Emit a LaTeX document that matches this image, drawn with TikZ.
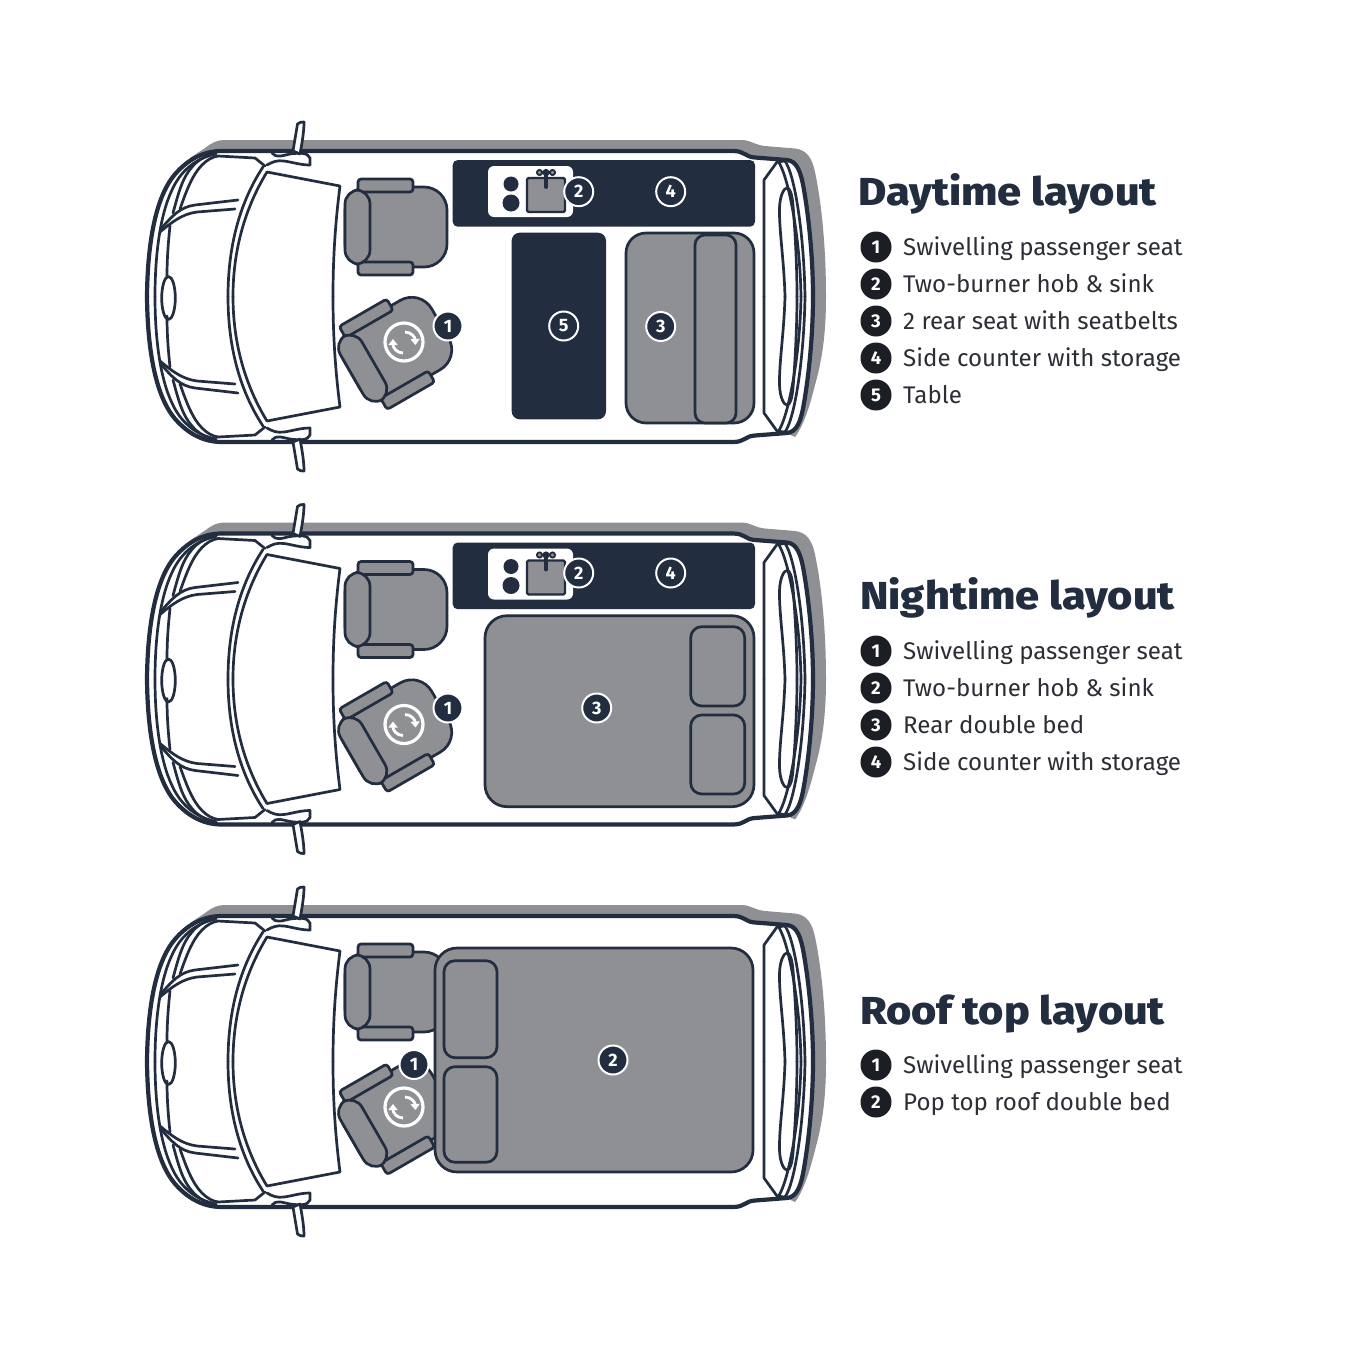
\documentclass[tikz,border=0pt]{standalone}
\usepackage{fontspec}
\setmainfont{Fira Sans}
\newfontfamily\titlef[FakeStretch=1.11]{Fira Sans ExtraBold}
\newfontfamily\badgef{Fira Sans}[UprightFont=* Bold]
\usetikzlibrary{arrows.meta}
\definecolor{navy}{HTML}{222D40}
\definecolor{seatgray}{HTML}{8F9093}
\definecolor{inkblack}{HTML}{1B1E24}
\definecolor{listtext}{HTML}{2B2E35}
\tikzset{
  thickline/.style={draw=navy,line width=4.2pt,line cap=round,line join=round},
  thinline/.style={draw=navy,line width=2.7pt,line cap=round,line join=round},
  seatline/.style={draw=navy,fill=seatgray,line width=2.7pt},
  badge/.style={circle,fill=navy,draw=white,line width=2pt,minimum size=29pt,inner sep=0pt,text=white,font=\badgef\fontsize{18}{20}\selectfont},
  legendbadge/.style={circle,fill=inkblack,minimum size=31pt,inner sep=0pt,text=white,font=\badgef\fontsize{18.5}{20}\selectfont},
  legendtext/.style={anchor=base west,inner sep=0pt,text=listtext,font=\fontsize{24.1}{28}\selectfont},
  titletext/.style={anchor=base west,inner sep=0pt,text=navy,font=\titlef\fontsize{39}{42}\selectfont}
}
\newcommand{\vanfill}{%
  \fill[white] (147,298) -- (147,296.5) .. controls (147.5,245) and (155,195) .. (177,172) .. controls (190,158) and (205,151) .. (222,151) -- (733,151) .. controls (745,151) and (745,157) .. (755,157.5) -- (787,160) .. controls (797,161) and (801,172) .. (804,190) .. controls (810,225) and (813,265) .. (813,298) -- cycle;
}
\newcommand{\vanhalf}{%
  \draw[thickline] (147,296.5) .. controls (147.5,245) and (155,195) .. (177,172) .. controls (190,158) and (205,151) .. (222,151) -- (733,151) .. controls (745,151) and (745,157) .. (755,157.5) -- (787,160) .. controls (797,161) and (801,172) .. (804,190) .. controls (810,225) and (813,265) .. (813,296.5);
  % front inner curves
  \draw[thinline] (155,296.5) .. controls (155,255) and (160,215) .. (172,190) .. controls (180,172) and (195,158) .. (216,154);
  \draw[thinline] (173,213) .. controls (178,195) and (182,178) .. (192,167) .. controls (197,161) and (203,157) .. (210,155);
  \draw[thinline] (180,209) .. controls (186,192) and (192,175) .. (202,165) .. controls (207,160) and (212,157) .. (218,156);
  % wiper strip
  \draw[thinline] (160,230) .. controls (172,216) and (180,207) .. (195,205) -- (238,200);
  \draw[thinline] (160,232) .. controls (172,222) and (182,214) .. (197,212) -- (235,209);
  \draw[thinline] (170,226) .. controls (168,245) and (167,260) .. (167,277);
  % windscreen / roof front
  \draw[thinline] (228,296.5) .. controls (228,250) and (238,205) .. (263,167);
  \draw[thinline] (233,296.5) .. controls (233,250) and (245,208) .. (267,172);
  \draw[thinline] (218,156) -- (255,158) -- (265,166);
  \draw[thinline] (267,172) -- (340,186) .. controls (335,225) and (333,260) .. (333,296.5);
  % mirror
  \draw[thinline,fill=white] (272,153) .. controls (276,158) and (281,156) .. (290,154) .. controls (298,153) and (308,152) .. (310,158) -- (310,165) .. controls (300,165) and (292,162) .. (284,161) .. controls (277,160) and (272,162) .. (267,165);
  \draw[thinline,fill=white] (293,151) -- (297.5,124) .. controls (299,122) and (302,122) .. (304,122) .. controls (304,132) and (302,143) .. (300,154) -- cycle;
  % rear door
  \draw[thinline] (764,296.5) -- (764,180) -- (777,162) -- (788,160.5);
  \draw[thinline] (778,161) .. controls (788,175) and (800,235) .. (801,296.5);
  \draw[thinline] (785,161) .. controls (795,175) and (804,235) .. (805,296.5);
  % rear window
  \draw[thinline] (785,296.5) .. controls (784,260) and (779,230) .. (779.5,208) .. controls (780,195) and (784,188) .. (787,188) .. controls (790,188) and (792,194) .. (793,205) .. controls (795,230) and (797,265) .. (797,296.5);
}
\newcommand{\van}{%
  \fill[seatgray] (190,158) -- (205,148) .. controls (213,142) and (218,140) .. (225,140) -- (743,140) .. controls (752,141) and (755,145) .. (765,146) -- (795,148.5) .. controls (807,150) and (812,158) .. (815,172) .. controls (822,205) and (826,250) .. (826,296.5) .. controls (826,335) and (822,360) .. (815,385) .. controls (810,405) and (804,425) .. (795,437) -- cycle;
  \vanfill
  \begin{scope}[shift={(0,593)},yscale=-1]\vanfill\end{scope}
  \vanhalf
  \begin{scope}[shift={(0,593)},yscale=-1]\vanhalf\end{scope}
  \draw[thinline] (168.5,298) ellipse [x radius=6.8pt,y radius=21.5pt];
}
\newcommand{\seatshape}{%
  \draw[seatline,rounded corners=23pt] (-51,-40) rectangle (51,40);
  \draw[seatline,rounded corners=3pt] (-38,-48) rectangle (17,-35);
  \draw[seatline,rounded corners=3pt] (-38,35) rectangle (17,48);
  \draw[seatline,rounded corners=14pt] (-51,-37) rectangle (-26,37);
}
\newcommand{\seats}{%
  \begin{scope}[shift={(396,227)}]\seatshape\end{scope}
  \begin{scope}[shift={(396,349)},rotate=30]\seatshape\end{scope}
  \draw[white,line width=3.2pt] (404,342) circle [radius=19pt];
  \draw[white,line width=2.8pt,-{Triangle[length=6pt,width=9pt]}] (405,332) .. controls (411,332) and (415,337) .. (415.5,345);
  \draw[white,line width=2.8pt,-{Triangle[length=6pt,width=9pt]}] (403,353) .. controls (397,353) and (393,348) .. (393,339);
}
\newcommand{\kitchen}{%
  \fill[navy,rounded corners=5pt] (452.7,160) rectangle (755,226.7);
  \fill[white,rounded corners=6pt] (488,166) rectangle (573,217);
  \fill[navy] (511,184) circle [radius=7.5pt];
  \fill[navy] (511,203) circle [radius=8.5pt];
  \draw[draw=navy,fill=seatgray,line width=2.4pt,rounded corners=1.5pt] (527,178) rectangle (565,212);
  \draw[navy,fill=seatgray,line width=1.8pt] (539.5,172.5) circle [radius=2.6pt] (546,172.5) circle [radius=2.6pt] (552.5,172.5) circle [radius=2.6pt];
  \draw[navy,line width=3.8pt,line cap=round] (546,172) -- (546,187);
}
\begin{document}
\begin{tikzpicture}[x=1pt,y=-1pt]
\useasboundingbox (0,0) rectangle (1350,1350);
\fill[white] (0,0) rectangle (1350,1350);
% ---------- Daytime
\van \seats \kitchen
\fill[navy,rounded corners=8pt] (511.7,232.7) rectangle (606,419.3);
\draw[seatline,rounded corners=20pt] (626,233) rectangle (754,423);
\draw[seatline,rounded corners=10pt] (695,235) rectangle (736,423);
\node[badge] (d1) at (448,326) {1};
\node[badge] (d2) at (578.7,191.7) {2};
\node[badge] (d3) at (660.7,326.5) {3};
\node[badge] (d4) at (670.7,191.7) {4};
\node[badge] (d5) at (563.7,326) {5};
\node[titletext] (dt) at (858,205) {Daytime layout};
\foreach \n/\y/\t in {1/247/Swivelling passenger seat,2/284/Two-burner hob \& sink,3/321/2 rear seat with seatbelts,4/358/Side counter with storage,5/395/Table}{
  \node[legendbadge] (dl\n) at (876,\y) {\n};
  \node[legendtext] (dk\n) at (903,\y+8.5) {\t};
}
% ---------- Nightime
\begin{scope}[shift={(0,382.5)}]
\van \seats \kitchen
\end{scope}
\draw[seatline,rounded corners=22pt] (485,615.7) rectangle (754,806.7);
\draw[seatline,rounded corners=11pt] (690.7,626.7) rectangle (744.7,706);
\draw[seatline,rounded corners=11pt] (690.7,715) rectangle (744.7,794);
\node[badge] (n1) at (448,708) {1};
\node[badge] (n2) at (578.7,573) {2};
\node[badge] (n3) at (596.7,708) {3};
\node[badge] (n4) at (670.7,573) {4};
\node[titletext] (nt) at (860,609) {Nightime layout};
\foreach \n/\y/\t in {1/651/Swivelling passenger seat,2/688/Two-burner hob \& sink,3/725/Rear double bed,4/762/Side counter with storage}{
  \node[legendbadge] (nl\n) at (876,\y) {\n};
  \node[legendtext] (nk\n) at (903,\y+8.5) {\t};
}
% ---------- Roof top
\begin{scope}[shift={(0,765)}]
\van \seats
\end{scope}
\draw[seatline,rounded corners=22pt] (435,948) rectangle (753,1172);
\draw[seatline,rounded corners=11pt] (444,960.7) rectangle (497,1057.7);
\draw[seatline,rounded corners=11pt] (444,1066.7) rectangle (497,1162.3);
\node[badge] (r1) at (414,1064.5) {1};
\node[badge] (r2) at (613,1060) {2};
\node[titletext] (rt) at (860,1024) {Roof top layout};
\foreach \n/\y/\t in {1/1065/Swivelling passenger seat,2/1102/Pop top roof double bed}{
  \node[legendbadge] (rl\n) at (876,\y) {\n};
  \node[legendtext] (rk\n) at (903,\y+8.5) {\t};
}
\end{tikzpicture}
\end{document}
